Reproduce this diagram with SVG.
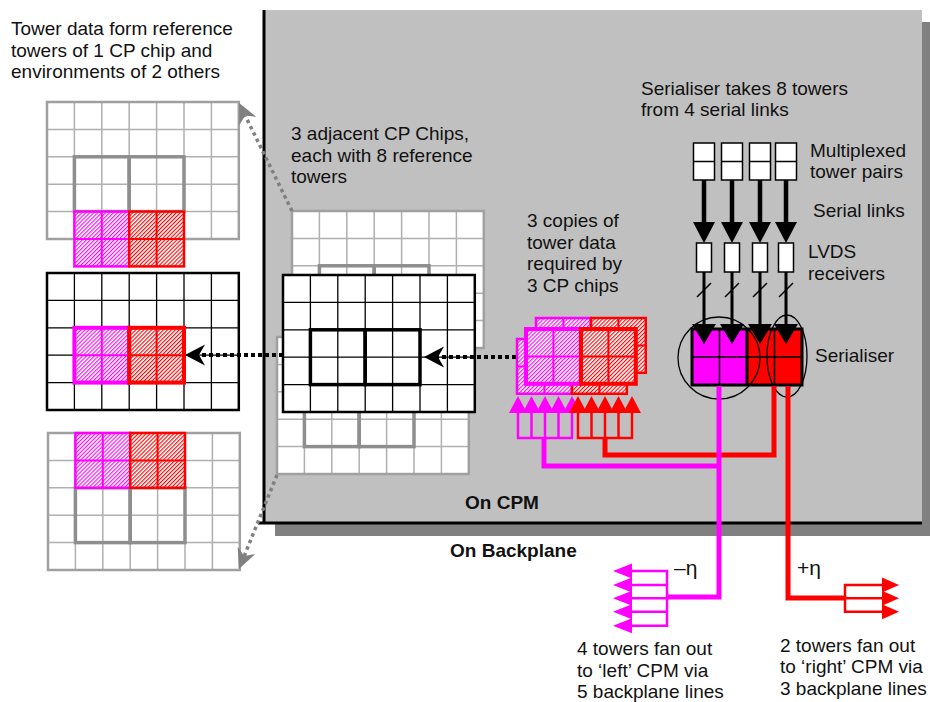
<svg xmlns="http://www.w3.org/2000/svg" width="930" height="702" viewBox="0 0 930 702">
<defs>
<style>
.t{font-family:"Liberation Sans",Arial,sans-serif;font-size:19px;fill:#111}
.b{font-weight:bold}
.eta{font-size:21px}
.gw{fill:#fff;stroke:none}
.gthin{fill:none;stroke:#b0b0b0;stroke-width:1.5}
.gout{fill:none;stroke:#a0a0a0;stroke-width:2.5}
.gthick{fill:none;stroke:#8e8e8e;stroke-width:3.5}
.bthin{fill:none;stroke:#000;stroke-width:1.3}
.bout{fill:none;stroke:#000;stroke-width:2.5}
.bthick{fill:none;stroke:#000;stroke-width:3.5}
.mq{fill:url(#hm);stroke:#f0f;stroke-width:2.5}
.rq{fill:url(#hr);stroke:#f00;stroke-width:2.5}
.mqT{fill:url(#hm);stroke:#f0f;stroke-width:4}
.rqT{fill:url(#hr);stroke:#f00;stroke-width:4}
.ml{fill:none;stroke:#f0f;stroke-width:2}
.rl{fill:none;stroke:#f00;stroke-width:2}
.mw{fill:none;stroke:#f0f;stroke-width:5}
.rw{fill:none;stroke:#f00;stroke-width:5}
.mc{fill:none;stroke:#f0f;stroke-width:2.5}
.rc{fill:none;stroke:#f00;stroke-width:2.5}
.mf{fill:#f0f}
.rf{fill:#f00}
.kf{fill:#000}
.box{fill:#fff;stroke:#000;stroke-width:1.5}
.dotg{fill:none;stroke:#808080;stroke-width:3.5;stroke-dasharray:3.5 3.5}
.dotk{fill:none;stroke:#000;stroke-width:4;stroke-dasharray:4 3}
</style>
<pattern id="hm" width="2.8" height="2.8" patternUnits="userSpaceOnUse" patternTransform="rotate(45)">
<rect width="2.8" height="2.8" fill="#fff"/><rect width="1.1" height="2.8" fill="#f0f"/>
</pattern>
<pattern id="hr" width="2.8" height="2.8" patternUnits="userSpaceOnUse" patternTransform="rotate(45)">
<rect width="2.8" height="2.8" fill="#fff"/><rect width="1.1" height="2.8" fill="#f00"/>
</pattern>
<rect id="gridBox" width="191.8" height="137"/>
<path id="gridLines" d="M27.4,0V137M54.8,0V137M82.2,0V137M109.6,0V137M137,0V137M164.4,0V137M0,27.4H191.8M0,54.8H191.8M0,82.2H191.8M0,109.6H191.8"/>
<rect id="quad" width="54.8" height="54.8"/>
<path id="quadLines" d="M27.4,0V54.8M0,27.4H54.8"/>
<path id="triD" d="M-11,0L11,0L0,21Z"/>
<path id="triS" d="M-12,0L12,0L0,20Z"/>
<path id="triU" d="M-9,0L9,0L0,-17Z"/>
<path id="triL" d="M0,-7.5L0,7.5L-19,0Z"/>
<path id="triR" d="M0,-7.5L0,7.5L17,0Z"/>
<marker id="arG" viewBox="-21 -11 22 22" refX="-14" refY="0" markerWidth="22" markerHeight="22" markerUnits="userSpaceOnUse" orient="auto">
<path d="M0,0L-20,-9.5L-14,0L-20,9.5Z" fill="#808080"/>
</marker>
<marker id="arK" viewBox="-21 -11 22 22" refX="-14" refY="0" markerWidth="22" markerHeight="22" markerUnits="userSpaceOnUse" orient="auto">
<path d="M0,0L-20,-10.5L-14,0L-20,10.5Z" fill="#000"/>
</marker>
</defs>

<g id="cpm-panel">
<rect x="275" y="22" width="657" height="514" fill="#808080"/>
<rect x="265" y="10" width="657" height="513" fill="#c0c0c0"/>
<path d="M264,10V524M258,523H922" fill="none" stroke="#000" stroke-width="3"/>
</g>

<g id="ref-top" transform="translate(47,102)">
<use href="#gridBox" class="gw"/>
<use href="#gridLines" class="gthin"/>
<use href="#gridBox" class="gout"/>
<use href="#quad" x="27.4" y="54.8" class="gthick"/>
<use href="#quad" x="82.2" y="54.8" class="gthick"/>
<use href="#quad" x="27.4" y="109.6" class="mq"/>
<use href="#quadLines" x="27.4" y="109.6" class="ml"/>
<use href="#quad" x="82.2" y="109.6" class="rq"/>
<use href="#quadLines" x="82.2" y="109.6" class="rl"/>
</g>

<g id="ref-mid" transform="translate(47,273)">
<use href="#gridBox" class="gw"/>
<use href="#gridLines" class="bthin"/>
<use href="#gridBox" class="bout"/>
<use href="#quad" x="27.4" y="54.8" class="mqT"/>
<use href="#quadLines" x="27.4" y="54.8" class="ml"/>
<use href="#quad" x="82.2" y="54.8" class="rqT"/>
<use href="#quadLines" x="82.2" y="54.8" class="rl"/>
</g>

<g id="ref-bottom" transform="translate(48,433)">
<use href="#gridBox" class="gw"/>
<use href="#gridLines" class="gthin"/>
<use href="#gridBox" class="gout"/>
<use href="#quad" x="27.4" y="54.8" class="gthick"/>
<use href="#quad" x="82.2" y="54.8" class="gthick"/>
<use href="#quad" x="27.4" y="0" class="mq"/>
<use href="#quadLines" x="27.4" y="0" class="ml"/>
<use href="#quad" x="82.2" y="0" class="rq"/>
<use href="#quadLines" x="82.2" y="0" class="rl"/>
</g>

<g id="chip-upper" transform="translate(292,211)">
<use href="#gridBox" class="gw"/>
<use href="#gridLines" class="gthin"/>
<use href="#gridBox" class="gout"/>
<use href="#quad" x="27.4" y="54.8" class="gthick"/>
<use href="#quad" x="82.2" y="54.8" class="gthick"/>
</g>

<g id="chip-lower" transform="translate(277,337)">
<use href="#gridBox" class="gw"/>
<use href="#gridLines" class="gthin"/>
<use href="#gridBox" class="gout"/>
<use href="#quad" x="27.4" y="54.8" class="gthick"/>
<use href="#quad" x="82.2" y="54.8" class="gthick"/>
</g>

<g id="chip-front" transform="translate(283,275)">
<use href="#gridBox" class="gw"/>
<use href="#gridLines" class="bthin"/>
<use href="#gridBox" class="bout"/>
<use href="#quad" x="27.4" y="54.8" class="bthick"/>
<use href="#quad" x="82.2" y="54.8" class="bthick"/>
</g>

<g id="tower-copies">
<use href="#quad" x="536" y="318" class="mq"/>
<use href="#quadLines" x="536" y="318" class="ml"/>
<use href="#quad" x="591" y="318" class="rq"/>
<use href="#quadLines" x="591" y="318" class="rl"/>
<use href="#quad" x="517" y="339" class="mq"/>
<use href="#quadLines" x="517" y="339" class="ml"/>
<use href="#quad" x="572" y="339" class="rq"/>
<use href="#quadLines" x="572" y="339" class="rl"/>
<use href="#quad" x="526" y="329" class="mqT"/>
<use href="#quadLines" x="526" y="329" class="ml"/>
<use href="#quad" x="581" y="329" class="rqT"/>
<use href="#quadLines" x="581" y="329" class="rl"/>
</g>

<g id="copies-inputs">
<path class="mc" d="M518,413V438M531.5,413V438M545,413V438M558.5,413V438M572,413V438M516.8,438H573.2"/>
<path class="rc" d="M578,413V438M591.5,413V438M605,413V438M618.5,413V438M632,413V438M576.8,438H633.2"/>
<use href="#triU" x="518" y="413" class="mf"/>
<use href="#triU" x="531.5" y="413" class="mf"/>
<use href="#triU" x="545" y="413" class="mf"/>
<use href="#triU" x="558.5" y="413" class="mf"/>
<use href="#triU" x="572" y="413" class="mf"/>
<use href="#triU" x="578" y="413" class="rf"/>
<use href="#triU" x="591.5" y="413" class="rf"/>
<use href="#triU" x="605" y="413" class="rf"/>
<use href="#triU" x="618.5" y="413" class="rf"/>
<use href="#triU" x="632" y="413" class="rf"/>
</g>

<g id="mux-pairs">
<rect class="box" x="693.5" y="143" width="21" height="37"/><path d="M693.5,161.5h21" stroke="#000" stroke-width="1.5"/>
<rect class="box" x="721.5" y="143" width="21" height="37"/><path d="M721.5,161.5h21" stroke="#000" stroke-width="1.5"/>
<rect class="box" x="749.5" y="143" width="21" height="37"/><path d="M749.5,161.5h21" stroke="#000" stroke-width="1.5"/>
<rect class="box" x="775.5" y="143" width="21" height="37"/><path d="M775.5,161.5h21" stroke="#000" stroke-width="1.5"/>
</g>

<g id="lvds-receivers">
<rect class="box" x="696.5" y="243" width="15" height="29"/>
<rect class="box" x="724.5" y="243" width="15" height="29"/>
<rect class="box" x="752.5" y="243" width="15" height="29"/>
<rect class="box" x="778.5" y="243" width="15" height="29"/>
</g>

<g id="serialiser">
<rect x="692" y="329" width="55" height="56" fill="#f0f"/>
<rect x="747" y="329" width="55" height="56" fill="#f00"/>
<path d="M719.5,329V385M774.5,329V385M692,357H802" stroke="#000" stroke-width="1.5" fill="none"/>
<path d="M747,329V385" stroke="#000" stroke-width="3" fill="none"/>
<rect x="692" y="329" width="110" height="56" fill="none" stroke="#000" stroke-width="3"/>
<circle cx="719" cy="358" r="41" fill="none" stroke="#000" stroke-width="1.3"/>
<ellipse cx="787" cy="356" rx="20" ry="41" fill="none" stroke="#000" stroke-width="1.3"/>
</g>

<g id="fanout-left">
<path class="mc" d="M630,571H667M630,585H667M630,598.3H667M630,611.7H667M630,625.7H667M667,569.8V626.9"/>
<use href="#triL" x="632" y="571" class="mf"/>
<use href="#triL" x="632" y="585" class="mf"/>
<use href="#triL" x="632" y="598.3" class="mf"/>
<use href="#triL" x="632" y="611.7" class="mf"/>
<use href="#triL" x="632" y="625.7" class="mf"/>
</g>

<g id="fanout-right">
<path class="rc" d="M845,585H884M845,598.3H884M845,611.7H884M845,583.8V612.9"/>
<use href="#triR" x="882" y="585" class="rf"/>
<use href="#triR" x="882" y="598.3" class="rf"/>
<use href="#triR" x="882" y="611.7" class="rf"/>
</g>

<g id="connectors">
<path class="dotg" d="M292,211L245.2,115.6" marker-end="url(#arG)"/>
<path class="dotg" d="M277,475L244.2,556" marker-end="url(#arG)"/>
<path class="dotk" d="M516,357L438,357" marker-end="url(#arK)"/>
<path class="dotk" d="M283,355L199,355" marker-end="url(#arK)"/>
<path d="M704,180V224M732,180V224M760,180V224M786,180V224" stroke="#000" stroke-width="4.5" fill="none"/>
<use href="#triD" x="704" y="222" class="kf"/>
<use href="#triD" x="732" y="222" class="kf"/>
<use href="#triD" x="760" y="222" class="kf"/>
<use href="#triD" x="786" y="222" class="kf"/>
<path d="M704,272V326M732,272V326M760,272V326M786,272V326" stroke="#000" stroke-width="3" fill="none"/>
<path d="M697,297L711,283M725,297L739,283M753,297L767,283M779,297L793,283" stroke="#000" stroke-width="1.5" fill="none"/>
<use href="#triS" x="704" y="324" class="kf"/>
<use href="#triS" x="732" y="324" class="kf"/>
<use href="#triS" x="760" y="324" class="kf"/>
<use href="#triS" x="786" y="324" class="kf"/>
<path class="rw" d="M605,438V455H774V386"/>
<path class="rw" d="M788,386V598H845"/>
<path class="mw" d="M544,438V466H721"/>
<path class="mw" d="M719,386V597H667"/>
</g>

<g id="labels">
<text class="t" x="11" y="35">Tower data form reference</text>
<text class="t" x="11" y="57">towers of 1 CP chip and</text>
<text class="t" x="11" y="78">environments of 2 others</text>
<text class="t" x="291" y="140">3 adjacent CP Chips,</text>
<text class="t" x="291" y="162">each with 8 reference</text>
<text class="t" x="291" y="183">towers</text>
<text class="t" x="641" y="95">Serialiser takes 8 towers</text>
<text class="t" x="641" y="116">from 4 serial links</text>
<text class="t" x="810" y="157">Multiplexed</text>
<text class="t" x="810" y="178">tower pairs</text>
<text class="t" x="813" y="217">Serial links</text>
<text class="t" x="808" y="258">LVDS</text>
<text class="t" x="808" y="280">receivers</text>
<text class="t" x="527" y="227">3 copies of</text>
<text class="t" x="527" y="249">tower data</text>
<text class="t" x="527" y="270">required by</text>
<text class="t" x="527" y="292">3 CP chips</text>
<text class="t" x="815" y="362">Serialiser</text>
<text class="t b" x="465" y="509">On CPM</text>
<text class="t b" x="450" y="557">On Backplane</text>
<text class="t eta" x="674" y="575">–η</text>
<text class="t eta" x="797" y="575">+η</text>
<text class="t" x="577" y="655">4 towers fan out</text>
<text class="t" x="577" y="677">to ‘left’ CPM via</text>
<text class="t" x="577" y="698">5 backplane lines</text>
<text class="t" x="780" y="652">2 towers fan out</text>
<text class="t" x="780" y="673">to ‘right’ CPM via</text>
<text class="t" x="780" y="695">3 backplane lines</text>
</g>
</svg>
